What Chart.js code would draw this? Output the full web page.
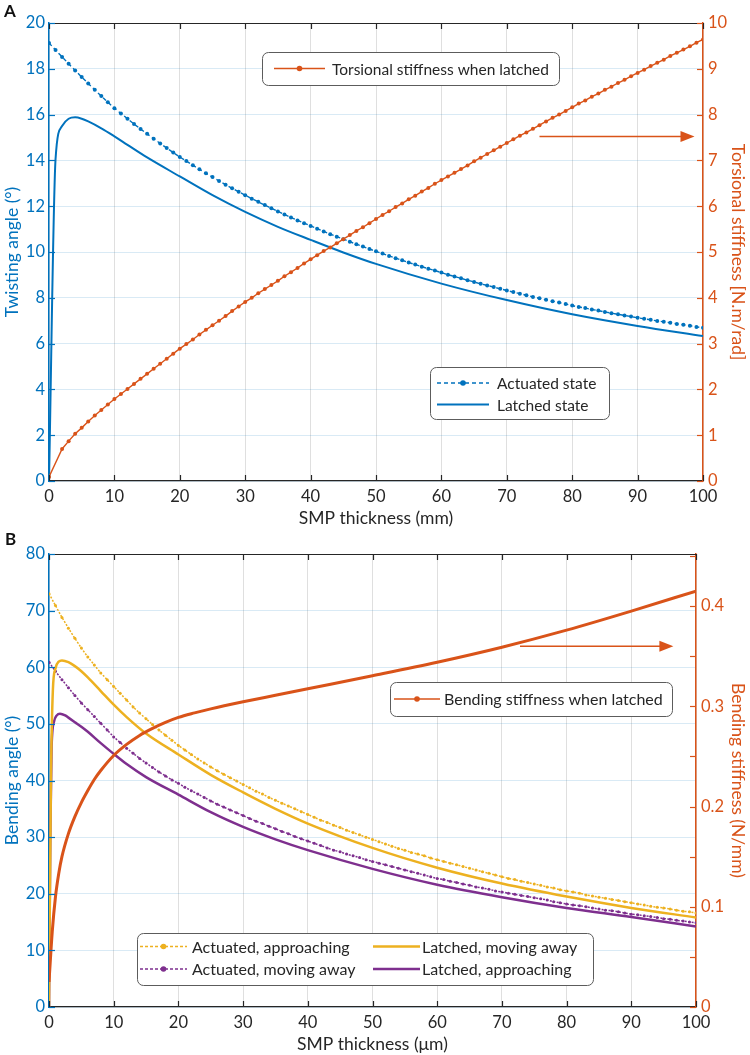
<!DOCTYPE html>
<html>
<head>
<meta charset="utf-8">
<script src="https://cdn.jsdelivr.net/npm/chart.js@4.4.1/dist/chart.umd.min.js"></script>
<style>
  body { margin: 0; background: #fff; width: 750px; height: 1055px; position: relative; overflow: hidden; }
  .panel { position: absolute; left: 0; width: 750px; }
  #wrapA { top: 0; height: 530px; }
  #wrapB { top: 530px; height: 525px; }
  .tag { position: absolute; font: bold 17px Lato, sans-serif; line-height: 17px; color: #111; }
</style>
</head>
<body>
<div class="panel" id="wrapA"><canvas id="chartA" width="750" height="530"></canvas></div>
<div class="panel" id="wrapB"><canvas id="chartB" width="750" height="525"></canvas></div>
<div class="tag" style="left:4px;top:2px">A</div>
<div class="tag" style="left:5px;top:530px">B</div>
<script>
// ---- panel A: twisting angle / torsional stiffness vs SMP thickness (mm)
const thickA = [0,1,2,3,4,5,6,7,8,9,10,11,12,13,14,15,16,17,18,19,20,21,22,23,24,25,26,27,28,29,30,
  31,32,33,34,35,36,37,38,39,40,41,42,43,44,45,46,47,48,49,50,51,52,53,54,55,56,57,58,59,60,
  61,62,63,64,65,66,67,68,69,70,71,72,73,74,75,76,77,78,79,80,81,82,83,84,85,86,87,88,89,90,
  91,92,93,94,95,96,97,98,99,100];
const actuatedA = [19.13,18.82,18.52,18.22,17.93,17.64,17.36,17.08,16.81,16.54,16.28,
  16.05,15.82,15.59,15.37,15.16,14.95,14.74,14.54,14.34,14.15,
  13.97,13.79,13.61,13.44,13.27,13.10,12.94,12.78,12.63,12.48,
  12.33,12.19,12.05,11.91,11.77,11.64,11.51,11.38,11.26,11.14,
  11.02,10.90,10.78,10.67,10.56,10.45,10.34,10.24,10.13,10.03,
  9.93,9.83,9.73,9.64,9.54,9.45,9.36,9.27,9.19,9.10,
  9.01,8.93,8.85,8.77,8.69,8.61,8.54,8.47,8.39,8.32,
  8.25,8.18,8.11,8.04,7.98,7.91,7.85,7.79,7.73,7.66,
  7.60,7.55,7.49,7.44,7.38,7.33,7.28,7.23,7.18,7.13,
  7.08,7.04,6.99,6.95,6.91,6.86,6.82,6.78,6.73,6.69];
const stiffA = [0.09,null,0.70,0.87,1.03,1.16,1.30,1.43,1.55,1.67,1.79,
  1.90,2.01,2.12,2.23,2.34,2.45,2.56,2.67,2.78,2.89,
  2.99,3.09,3.20,3.30,3.40,3.50,3.60,3.71,3.81,3.91,
  4.00,4.10,4.19,4.28,4.37,4.47,4.56,4.65,4.75,4.84,
  4.93,5.02,5.10,5.19,5.28,5.37,5.46,5.54,5.63,5.72,
  5.81,5.89,5.98,6.06,6.15,6.23,6.32,6.40,6.49,6.57,
  6.65,6.73,6.81,6.89,6.98,7.06,7.14,7.22,7.30,7.38,
  7.46,7.54,7.61,7.69,7.77,7.85,7.93,8.00,8.08,8.16,
  8.24,8.31,8.39,8.46,8.54,8.61,8.69,8.76,8.84,8.91,
  8.98,9.06,9.13,9.20,9.28,9.35,9.42,9.49,9.57,9.64];
const latchedXA = [0,1,2,3,4,5,6,8,10,12,15,20,25,30,35,40,45,50,60,70,80,90,100];
const latchedA = [0,14.05,15.5,15.82,15.88,15.82,15.7,15.4,15.05,14.68,14.13,13.3,12.48,11.75,11.1,10.53,9.98,9.48,8.62,7.9,7.28,6.77,6.33];
const angleTicksA = { min: 0, max: 20, step: 2 };
const stiffTicksA = { min: 0, max: 10, step: 1 };

// ---- panel B: bending angle / bending stiffness vs SMP thickness (um)
const thickB = thickA;
const actApproachB = [73.0,70.9,68.8,66.9,65.1,63.4,61.8,60.4,59.0,57.8,56.6,
  55.4,54.2,53.0,51.9,50.9,49.9,48.9,48.0,47.1,46.2,
  45.4,44.6,43.8,43.1,42.4,41.7,41.1,40.5,39.9,39.3,
  38.7,38.1,37.6,37.0,36.5,36.0,35.5,35.0,34.5,34.0,
  33.5,33.0,32.6,32.1,31.7,31.2,30.8,30.4,30.0,29.6,
  29.2,28.8,28.4,28.0,27.7,27.3,27.0,26.7,26.3,26.0,
  25.7,25.4,25.1,24.8,24.5,24.2,23.9,23.6,23.3,23.0,
  22.7,22.5,22.2,22.0,21.7,21.5,21.2,21.0,20.7,20.5,
  20.3,20.1,19.8,19.6,19.4,19.2,19.0,18.8,18.6,18.4,
  18.2,18.0,17.8,17.6,17.5,17.3,17.1,16.9,16.8,16.6];
const actAwayB = [60.9,59.3,57.8,56.4,55.0,53.7,52.5,51.3,50.1,48.9,47.7,
  46.7,45.7,44.8,43.9,43.1,42.3,41.5,40.8,40.1,39.5,
  38.8,38.2,37.6,37.0,36.4,35.8,35.3,34.8,34.3,33.8,
  33.3,32.8,32.4,31.9,31.5,31.0,30.6,30.1,29.7,29.3,
  28.9,28.5,28.1,27.7,27.4,27.0,26.7,26.4,26.0,25.7,
  25.4,25.1,24.8,24.5,24.2,23.9,23.6,23.3,23.0,22.7,
  22.5,22.2,22.0,21.7,21.5,21.2,21.0,20.8,20.5,20.3,
  20.1,19.9,19.7,19.5,19.3,19.1,18.9,18.6,18.4,18.2,
  18.0,17.9,17.7,17.5,17.3,17.1,17.0,16.8,16.6,16.4,
  16.3,16.1,16.0,15.8,15.6,15.5,15.3,15.2,15.0,14.9];
const latAwayXB = [0,0.3,0.6,1,1.5,2,3,4,5,6,8,10,12,15,20,25,30,35,40,50,60,70,80,90,100];
const latAwayB = [0,40,56,59.8,61.0,61.2,60.9,60.2,59.3,58.2,55.8,53.4,51.2,48.3,44.6,41.0,37.9,35.0,32.4,28.1,24.6,21.8,19.5,17.5,15.8];
const latApproachXB = [0,0.2,0.4,0.8,1.2,1.7,2.5,3,4,5,6,8,10,12,15,20,25,30,35,40,50,60,70,80,90,100];
const latApproachB = [0,30,46,50.5,51.5,51.8,51.5,51.1,50.3,49.5,48.6,46.6,44.7,42.9,40.6,37.5,34.4,31.8,29.6,27.7,24.4,21.6,19.4,17.5,15.9,14.2];
const stiffXB = [0,0.5,1,1.5,2,3,4,5,6,7,8,10,12,14,16,18,20,22.5,25,30,35,40,50,60,70,80,90,100];
const stiffB = [0.025,0.075,0.11,0.133,0.15,0.173,0.19,0.204,0.216,0.227,0.236,0.251,0.262,0.271,0.278,0.284,0.289,0.2935,0.2975,0.3045,0.311,0.3175,0.3305,0.344,0.359,0.376,0.395,0.415];
const angleTicksB = { min: 0, max: 80, step: 10 };
const stiffTicksB = { min: 0, max: 0.452, step: 0.05 };

// colours (MATLAB default order)
const blue = 'rgb(0,114,189)';
const orange = 'rgb(217,83,25)';
const yellow = 'rgb(237,177,32)';
const purple = 'rgb(126,47,142)';
const ink = '#262626';
const gridGray = 'rgba(38,38,38,0.15)';
const gridBlue = 'rgba(0,114,189,0.15)';
const FONT = 'Lato, sans-serif';

Chart.defaults.font.family = FONT;
Chart.defaults.animation = false;

function pts(xs, ys) {
  return xs.map((x, i) => ({ x: x, y: ys[i] }));
}

function line(ctx, x0, y0, x1, y1) {
  ctx.beginPath(); ctx.moveTo(x0, y0); ctx.lineTo(x1, y1); ctx.stroke();
}

function drawLegend(ctx, lg) {
  const b = lg.box;
  ctx.save();
  ctx.beginPath();
  ctx.roundRect(b.x + 0.5, b.y + 0.5, b.w, b.h, 6);
  ctx.fillStyle = '#fff';
  ctx.fill();
  ctx.strokeStyle = '#5c5c5c';
  ctx.lineWidth = 1;
  ctx.stroke();
  ctx.font = lg.font;
  ctx.textBaseline = 'middle';
  lg.rows.forEach(r => {
    ctx.strokeStyle = r.color;
    ctx.lineWidth = r.width;
    ctx.setLineDash(r.dash || []);
    line(ctx, r.x0, r.y, r.x1, r.y);
    ctx.setLineDash([]);
    if (r.marker) {
      ctx.fillStyle = r.color;
      ctx.beginPath(); ctx.arc((r.x0 + r.x1) / 2, r.y, r.marker, 0, Math.PI * 2); ctx.fill();
    }
    ctx.fillStyle = ink;
    ctx.fillText(r.label, r.tx, r.y + 1);
  });
  ctx.restore();
}

// box outline, inward ticks, arrow and legends (MATLAB style)
const frame = {
  id: 'frame',
  afterDraw(chart, args, opts) {
    const { ctx, chartArea: a, scales } = chart;
    const tl = 6;
    ctx.save();
    ctx.lineWidth = 1.2;
    ctx.strokeStyle = ink;
    line(ctx, a.left, a.top + 0.5, a.right, a.top + 0.5);
    scales.x.ticks.forEach(t => {
      const px = Math.round(scales.x.getPixelForValue(t.value)) + 0.5;
      line(ctx, px, a.bottom, px, a.bottom - tl);
      line(ctx, px, a.top, px, a.top + tl);
    });
    ctx.strokeStyle = blue;
    scales.y.ticks.forEach(t => {
      const py = Math.round(scales.y.getPixelForValue(t.value)) + 0.5;
      line(ctx, a.left, py, a.left + tl, py);
    });
    ctx.strokeStyle = orange;
    scales.y2.ticks.forEach(t => {
      const py = Math.round(scales.y2.getPixelForValue(t.value)) + 0.5;
      line(ctx, a.right - tl, py, a.right, py);
    });
    // arrow pointing to the right-hand axis
    const ar = opts.arrow;
    const ax0 = scales.x.getPixelForValue(ar.from);
    const ax1 = scales.x.getPixelForValue(ar.to);
    const ay = scales.y2.getPixelForValue(ar.at);
    ctx.strokeStyle = orange; ctx.fillStyle = orange; ctx.lineWidth = 1.5;
    line(ctx, ax0, ay, ax1 - 10, ay);
    ctx.beginPath();
    ctx.moveTo(ax1, ay); ctx.lineTo(ax1 - 14, ay - 5.5); ctx.lineTo(ax1 - 14, ay + 5.5); ctx.closePath(); ctx.fill();
    ctx.restore();
    opts.legends.forEach(lg => drawLegend(ctx, lg));
  }
};

function baseScales(cfg) {
  return {
    x: {
      type: 'linear', position: 'bottom', min: 0, max: 100,
      ticks: { stepSize: 10, color: ink, padding: 6, font: { size: 16.5 }, maxRotation: 0, autoSkip: false },
      grid: { color: gridGray, drawTicks: false },
      border: { color: ink, width: 1.2 },
      title: { display: true, text: cfg.xTitle, color: ink, font: { size: 17.5 }, padding: { top: 0, bottom: cfg.xTitlePad } },
      afterFit: s => { s.height = cfg.xHeight; }
    },
    y: {
      position: 'left', min: cfg.left.min, max: cfg.left.max,
      ticks: { stepSize: cfg.left.step, color: blue, padding: 4, font: { size: 16.5 } },
      grid: { color: gridBlue, drawTicks: false },
      border: { color: blue, width: 1.5 },
      title: { display: true, text: cfg.leftTitle, color: blue, font: { size: 17.5 }, padding: { top: 2, bottom: 0 } },
      afterFit: s => { s.width = 49; }
    },
    y2: {
      position: 'right', min: cfg.right.min, max: cfg.right.max,
      ticks: { stepSize: cfg.right.step, color: orange, padding: 5, font: { size: 16.5 }, includeBounds: false,
        callback: cfg.rightLabel },
      grid: { drawOnChartArea: false, drawTicks: false },
      border: { color: orange, width: 1.5 },
      title: { display: true, text: cfg.rightTitle, color: orange, font: { size: 17.5 }, padding: { top: 2, bottom: 0 } },
      afterFit: s => { s.width = cfg.rightWidth; }
    }
  };
}

const common = {
  responsive: false,
  events: [],
  plugins: { legend: { display: false }, tooltip: { enabled: false } }
};

// ---- chart A
new Chart(document.getElementById('chartA'), {
  type: 'line',
  data: {
    datasets: [
      { label: 'Torsional stiffness when latched', yAxisID: 'y2', data: pts(thickA, stiffA), spanGaps: true,
        borderColor: orange, borderWidth: 1.4, pointRadius: 2, pointBorderWidth: 0, pointBackgroundColor: orange },
      { label: 'Actuated state', yAxisID: 'y', data: pts(thickA, actuatedA),
        borderColor: blue, borderWidth: 1.4, borderDash: [4, 3], pointRadius: 2, pointBorderWidth: 0, pointBackgroundColor: blue },
      { label: 'Latched state', yAxisID: 'y', data: pts(latchedXA, latchedA), cubicInterpolationMode: 'monotone',
        borderColor: blue, borderWidth: 2, pointRadius: 0 }
    ]
  },
  options: Object.assign({}, common, {
    layout: { padding: { top: 23, left: 0, right: 0, bottom: 0 } },
    scales: baseScales({
      xTitle: 'SMP thickness (mm)', xTitlePad: 1, xHeight: 49,
      left: angleTicksA, right: stiffTicksA, rightWidth: 47,
      leftTitle: 'Twisting angle (°)', rightTitle: 'Torsional stiffness [N.m/rad]',
      rightLabel: v => String(v)
    }),
    plugins: Object.assign({}, common.plugins, {
      frame: {
        arrow: { from: 75, to: 98.7, at: 7.52 },
        legends: [
          { font: '15.5px ' + FONT, box: { x: 262, y: 52, w: 297, h: 33 },
            rows: [{ label: 'Torsional stiffness when latched', color: orange, width: 1.4, marker: 2.8, x0: 274, x1: 325, y: 68.5, tx: 332 }] },
          { font: '15.5px ' + FONT, box: { x: 430, y: 367, w: 179, h: 52 },
            rows: [
              { label: 'Actuated state', color: blue, width: 1.4, dash: [4, 3], marker: 2.8, x0: 437, x1: 489, y: 383, tx: 497 },
              { label: 'Latched state', color: blue, width: 2, x0: 437, x1: 489, y: 404.5, tx: 497 }
            ] }
        ]
      }
    })
  }),
  plugins: [frame]
});

// ---- chart B
new Chart(document.getElementById('chartB'), {
  type: 'line',
  data: {
    datasets: [
      { label: 'Bending stiffness when latched', yAxisID: 'y2', data: pts(stiffXB, stiffB), cubicInterpolationMode: 'monotone',
        borderColor: orange, borderWidth: 3, pointRadius: 0 },
      { label: 'Actuated, approaching', yAxisID: 'y', data: pts(thickB, actApproachB),
        borderColor: yellow, borderWidth: 1.5, borderDash: [2, 1.5], pointRadius: 1.5, pointBorderWidth: 0, pointBackgroundColor: yellow },
      { label: 'Latched, moving away', yAxisID: 'y', data: pts(latAwayXB, latAwayB), cubicInterpolationMode: 'monotone',
        borderColor: yellow, borderWidth: 2.5, pointRadius: 0 },
      { label: 'Actuated, moving away', yAxisID: 'y', data: pts(thickB, actAwayB),
        borderColor: purple, borderWidth: 1.5, borderDash: [2, 1.5], pointRadius: 1.5, pointBorderWidth: 0, pointBackgroundColor: purple },
      { label: 'Latched, approaching', yAxisID: 'y', data: pts(latApproachXB, latApproachB), cubicInterpolationMode: 'monotone',
        borderColor: purple, borderWidth: 2.5, pointRadius: 0 }
    ]
  },
  options: Object.assign({}, common, {
    layout: { padding: { top: 24, left: 0, right: 0, bottom: 0 } },
    scales: baseScales({
      xTitle: 'SMP thickness (μm)', xTitlePad: 0, xHeight: 48,
      left: angleTicksB, right: stiffTicksB, rightWidth: 54,
      leftTitle: 'Bending angle (°)', rightTitle: 'Bending stiffness (N/mm)',
      rightLabel: v => { const k = Math.round(v * 20); return k % 2 === 0 ? String(k / 20) : ''; }
    }),
    plugins: Object.assign({}, common.plugins, {
      frame: {
        arrow: { from: 72.8, to: 96.5, at: 0.36 },
        legends: [
          { font: '16px ' + FONT, box: { x: 390, y: 152, w: 282, h: 34 },
            rows: [{ label: 'Bending stiffness when latched', color: orange, width: 1.4, marker: 2.8, x0: 394, x1: 440, y: 169, tx: 444 }] },
          { font: '16px ' + FONT, box: { x: 137, y: 403, w: 456, h: 52 },
            rows: [
              { label: 'Actuated, approaching', color: yellow, width: 1.3, dash: [3, 2], marker: 2.8, x0: 140, x1: 187, y: 416.5, tx: 192 },
              { label: 'Actuated, moving away', color: purple, width: 1.3, dash: [3, 2], marker: 2.8, x0: 140, x1: 187, y: 439, tx: 192 },
              { label: 'Latched, moving away', color: yellow, width: 2.5, x0: 373, x1: 420, y: 416.5, tx: 422 },
              { label: 'Latched, approaching', color: purple, width: 2.5, x0: 373, x1: 420, y: 439, tx: 422 }
            ] }
        ]
      }
    })
  }),
  plugins: [frame]
});
</script>
</body>
</html>
